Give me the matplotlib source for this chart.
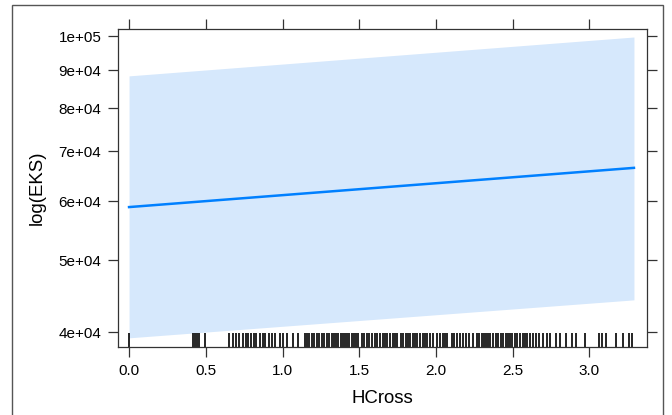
import numpy as np
import matplotlib
matplotlib.use("Agg")
import matplotlib.pyplot as plt
from matplotlib.patches import Rectangle
from matplotlib.transforms import blended_transform_factory

plt.rcParams['font.family'] = ['Liberation Sans', 'DejaVu Sans']

# effet de HCross sur EKS (echelle log)
fit_x = [0.0, 3.29]
fit = [5.89e4, 6.65e4]
lower = [3.93e4, 4.42e4]
upper = [8.84e4, 9.97e4]

# valeurs observees de HCross (rug)
hcross = [0.0, 0.415, 0.428, 0.441, 0.458, 0.495,
          0.653, 0.675, 0.697, 0.719, 0.741, 0.762, 0.777, 0.793, 0.814, 0.827,
          0.853, 0.871, 0.886, 0.914, 0.930, 0.951, 0.984, 1.0, 1.03,
          1.066, 1.103, 1.147, 1.162, 1.175, 1.19, 1.205, 1.223, 1.24, 1.255,
          1.27, 1.288, 1.305, 1.32, 1.335, 1.349, 1.364, 1.379, 1.392, 1.407,
          1.418, 1.435, 1.451, 1.466, 1.479, 1.494, 1.516, 1.531, 1.548, 1.565,
          1.581, 1.603, 1.618, 1.635, 1.653, 1.668, 1.683,
          1.7, 1.718, 1.733, 1.748, 1.77, 1.787, 1.805, 1.82, 1.831, 1.848,
          1.863, 1.878, 1.896, 1.913, 1.928, 1.943, 1.961, 1.983, 2.005, 2.026,
          2.044, 2.059, 2.07, 2.102, 2.117, 2.135, 2.156, 2.178, 2.195, 2.217,
          2.239, 2.265, 2.282, 2.298, 2.313, 2.326, 2.341,
          2.352, 2.374, 2.391, 2.406, 2.422, 2.439, 2.456, 2.471, 2.482, 2.493,
          2.515, 2.53, 2.547, 2.565, 2.58, 2.595, 2.612, 2.629, 2.651, 2.673,
          2.695, 2.721, 2.743, 2.782, 2.808, 2.847, 2.884, 2.912, 2.971,
          3.064, 3.079, 3.107, 3.173, 3.216, 3.26, 3.275]

xticks = [0.0, 0.5, 1.0, 1.5, 2.0, 2.5, 3.0]
xtick_labels = ["0.0", "0.5", "1.0", "1.5", "2.0", "2.5", "3.0"]
yticks = [4e4, 5e4, 6e4, 7e4, 8e4, 9e4, 1e5]
ytick_labels = ["4e+04", "5e+04", "6e+04", "7e+04", "8e+04", "9e+04", "1e+05"]

fig = plt.figure(figsize=(6.72, 4.15), dpi=100)
ax = fig.add_axes([118 / 672, 1 - 347 / 415, (647 - 118) / 672, (347 - 29) / 415])

# cadre gris autour de la figure
fig.patches.append(Rectangle((12 / 672, -0.1), (663 - 12) / 672, 1.1 - 5 / 415,
                             transform=fig.transFigure, fill=False,
                             edgecolor="#555555", linewidth=1.0))

ax.fill_between(fit_x, lower, upper, color="#d6e8fc", linewidth=0)
ax.plot(fit_x, fit, color="#0080ff", linewidth=1.8)

trans = blended_transform_factory(ax.transData, ax.transAxes)
ax.vlines(hcross, 0, 0.044, transform=trans, color="black", linewidth=1.2)

ax.set_yscale("log")
ax.set_xlim(-0.072, 3.375)
ax.set_ylim(3.82e4, 1.022e5)
ax.set_xticks(xticks, xtick_labels)
ax.set_yticks(yticks, ytick_labels)
ax.yaxis.set_minor_locator(matplotlib.ticker.NullLocator())

ax.tick_params(axis="both", direction="out", length=7, width=0.9, color="#333333",
               labelsize=11, top=True, right=True, labeltop=False, labelright=False)
ax.tick_params(axis="x", pad=5)
ax.tick_params(axis="y", pad=5)
for s in ax.spines.values():
    s.set_color("#333333")
    s.set_linewidth(0.9)

ax.set_xlabel("HCross", fontsize=13.4, labelpad=9)
ax.set_ylabel("log(EKS)", fontsize=13.4, labelpad=9)

fig.savefig("out.png", dpi=100)
